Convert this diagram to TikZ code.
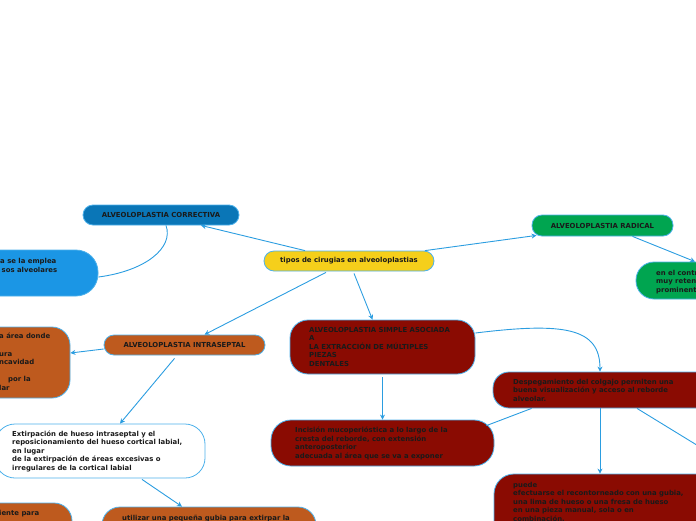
\documentclass[tikz,border=0pt]{standalone}
\usepackage{fontspec}
\setmainfont{DejaVu Sans}
\usetikzlibrary{arrows.meta}
\definecolor{cline}{HTML}{2B9DE0}
\definecolor{cborder}{HTML}{4DB1EB}
\definecolor{cyellow}{HTML}{F5CF1B}
\definecolor{cdblue}{HTML}{0A76B7}
\definecolor{clblue}{HTML}{1B96E5}
\definecolor{cgreen}{HTML}{00A550}
\definecolor{corange}{HTML}{BE5A1E}
\definecolor{cred}{HTML}{8A0B02}
\definecolor{ctext}{HTML}{1A1A1A}
\tikzset{
  box/.style={draw=cborder, line width=0.8pt, inner sep=0pt, text=ctext,
     font=\fontsize{6.9}{8.6}\selectfont\bfseries},
  txt/.style={anchor=base west, inner sep=0pt, align=left, text=ctext,
     font=\fontsize{6.9}{8.6}\selectfont\bfseries},
  conn/.style={draw=cline, line width=0.9pt},
  arr/.style={conn, -{Stealth[length=5pt,width=5pt]}}
}
\begin{document}
\begin{tikzpicture}[x=1pt,y=-1pt]
\useasboundingbox (0,0) rectangle (696,520);
\clip (0,0) rectangle (696,520);
% boxes
\node[box, fill=cyellow, minimum width=170pt, minimum height=20pt, rounded corners=10pt] (central) at (349,261) {tipos de cirugias en alveoloplastias};
\node[box, fill=cdblue, minimum width=156pt, minimum height=20pt, rounded corners=10pt] (corr) at (161,215) {ALVEOLOPLASTIA CORRECTIVA};
\node[box, fill=cgreen, minimum width=141pt, minimum height=21pt, rounded corners=10pt] (radical) at (602.5,225.5) {ALVEOLOPLASTIA RADICAL};
\node[box, fill=corange, minimum width=161pt, minimum height=20pt, rounded corners=10pt] (intra) at (184.5,345) {ALVEOLOPLASTIA INTRASEPTAL};
\node[box, fill=clblue, minimum width=178pt, minimum height=46pt, rounded corners=22pt] (blue) at (9,273) {};
\node[box, fill=cgreen, minimum width=104pt, minimum height=37pt, rounded corners=18pt] (green) at (688,280.5) {};
\node[box, fill=corange, minimum width=150pt, minimum height=71pt, rounded corners=18pt] (orangeL) at (-5,362.5) {};
\node[box, fill=cred, minimum width=185pt, minimum height=54pt, rounded corners=18pt] (simple) at (382.5,347) {};
\node[box, fill=cred, minimum width=247pt, minimum height=36pt, rounded corners=16pt] (desp) at (616.5,390) {};
\node[box, fill=cred, minimum width=223pt, minimum height=46pt, rounded corners=20pt] (incision) at (382.5,443) {};
\node[box, fill=white, minimum width=210pt, minimum height=54pt, rounded corners=20pt] (extirp) at (100,451) {};
\node[box, fill=corange, minimum width=214pt, minimum height=48pt, rounded corners=18pt] (util) at (209,531) {};
\node[box, fill=cred, minimum width=246pt, minimum height=86pt, rounded corners=20pt] (puede) at (617,517) {};
\node[box, fill=corange, minimum width=152pt, minimum height=40pt, rounded corners=18pt] (orangeB) at (-4,523) {};
% texts (anchored at the baseline of the last line)
\node[txt] (blue-t) at (0,272.5) {a se la emplea\\\hspace*{1.5pt}sos alveolares};
\node[txt] (green-t) at (656,292.5) {en el contraste\\muy retentivo\\prominente};
\node[txt] (orangeL-t) at (-1,390.5) {a área donde\\\mbox{}\\ura\\ncavidad\\\mbox{}\\\hspace*{9pt}por la\\lar};
\node[txt] (simple-t) at (309,366.5) {ALVEOLOPLASTIA SIMPLE ASOCIADA\\A\\LA EXTRACCIÓN DE MÚLTIPLES\\PIEZAS\\DENTALES};
\node[txt] (desp-t) at (513,401.5) {Despegamiento del colgajo permiten una\\buena visualización y acceso al reborde\\alveolar.};
\node[txt] (incision-t) at (295,458.5) {Incisión mucoperióstica a lo largo de la\\cresta del reborde, con extensión\\anteroposterior\\adecuada al área que se va a exponer};
\node[txt] (extirp-t) at (12,470.5) {Extirpación de hueso intraseptal y el\\reposicionamiento del hueso cortical labial,\\en lugar\\de la extirpación de áreas excesivas o\\irregulares de la cortical labial};
\node[txt] (util-t) at (122,520.5) {utilizar una pequeña gubia para extirpar la};
\node[txt] (puede-t) at (513,521.5) {puede\\efectuarse el recontorneado con una gubia,\\una lima de hueso o una fresa de hueso\\en una pieza manual, sola o en\\combinación.};
\node[txt] (orangeB-t) at (-1,515.5) {iente para};
% connectors
\coordinate (offR) at (700,447);
\draw[arr] ([xshift=-44pt]central.north) -- ([xshift=40pt]corr.south);
\draw[arr] ([xshift=76pt]central.north) -- ([xshift=-66pt,yshift=1pt]radical.south);
\draw[arr] ([xshift=30pt]radical.south) -- ([xshift=7pt]green.north);
\draw[conn] ([xshift=5pt]corr.south) .. controls (174,248) and (145,271) .. ([yshift=-4pt]blue.east);
\draw[arr] ([xshift=-23pt,yshift=-1pt]central.south) -- ([xshift=20pt]intra.north);
\draw[arr] ([xshift=5pt,yshift=-2pt]central.south) -- ([xshift=-10pt]simple.north);
\draw[arr] ([yshift=-4pt]intra.west) -- ([yshift=9.5pt]orangeL.east);
\draw[arr] ([xshift=-10pt,yshift=-3pt]intra.south) -- ([xshift=20pt]extirp.north);
\draw[arr] ([xshift=42pt,yshift=-1pt]extirp.south) -- ([xshift=-27pt]util.north);
\draw[arr] ([yshift=14pt]simple.east) .. controls (565,322) and (600,328) .. ([xshift=-16.5pt]desp.north);
\draw[arr] ([yshift=-3pt]simple.south) -- (incision.north);
\draw[conn] ([xshift=-8pt,yshift=-6pt]incision.north east) -- ([xshift=39pt]desp.south west);
\draw[arr] ([xshift=-16.5pt]desp.south) -- ([xshift=-17pt]puede.north);
\draw[conn] ([xshift=20.5pt]desp.south) -- (offR);
\end{tikzpicture}
\end{document}
